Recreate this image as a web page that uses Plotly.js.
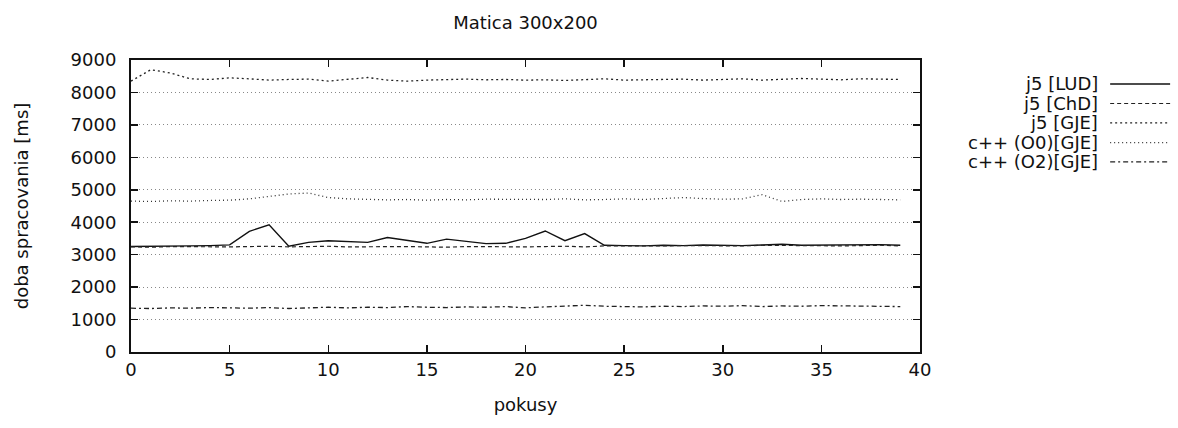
<!DOCTYPE html>
<html>
<head>
<meta charset="utf-8">
<script src="https://cdn.plot.ly/plotly-3.0.1.min.js"></script>
<style>html,body{margin:0;padding:0;background:#fff;}#chart{width:1178px;height:428px;}</style>
</head>
<body>
<div id="chart"></div>
<script>
// ---- data ----
const pokusy = Array.from({length: 40}, (_, i) => i);
const seriesNames = ["j5 [LUD]", "j5 [ChD]", "j5 [GJE]", "c++ (O0)[GJE]", "c++ (O2)[GJE]"];
const j5LUD = [3250,3250,3260,3270,3280,3300,3720,3920,3260,3380,3430,3400,3380,3530,3430,3350,3480,3400,3340,3350,3500,3730,3430,3650,3290,3280,3270,3290,3280,3300,3290,3280,3300,3320,3290,3300,3290,3300,3310,3290];
const j5ChD = [3240,3230,3250,3240,3250,3240,3250,3260,3240,3250,3260,3240,3250,3240,3250,3240,3230,3250,3240,3250,3240,3250,3260,3240,3270,3270,3260,3270,3280,3270,3280,3270,3290,3280,3270,3280,3270,3280,3290,3270];
const j5GJE = [8350,8700,8600,8420,8400,8450,8420,8380,8400,8410,8350,8400,8460,8380,8350,8380,8400,8410,8390,8400,8380,8390,8370,8400,8420,8380,8390,8400,8410,8380,8400,8420,8380,8400,8430,8410,8390,8420,8410,8400];
const cppO0GJE = [4650,4640,4660,4650,4670,4680,4720,4800,4870,4900,4760,4720,4700,4690,4700,4680,4700,4690,4710,4700,4690,4700,4720,4690,4700,4720,4700,4740,4760,4730,4710,4720,4850,4640,4700,4720,4700,4710,4700,4690];
const cppO2GJE = [1350,1340,1360,1350,1370,1360,1350,1370,1340,1360,1380,1360,1380,1370,1400,1380,1370,1390,1380,1400,1360,1390,1420,1440,1410,1400,1390,1410,1400,1420,1410,1430,1400,1420,1410,1430,1420,1400,1410,1400];
const xTicks = [0,5,10,15,20,25,30,35,40];
const yTicks = [0,1000,2000,3000,4000,5000,6000,7000,8000,9000];

// ---- styles ----
const allY = [j5LUD, j5ChD, j5GJE, cppO0GJE, cppO2GJE];
const styles = [
  {color:'#111', width:1.4, dash:'solid'},
  {color:'#222', width:1.2, dash:'4px,3px'},
  {color:'#222', width:1.3, dash:'2px,3px'},
  {color:'#333', width:1.3, dash:'1px,3px'},
  {color:'#222', width:1.3, dash:'5px,3px,2px,3px'}
];
const FONT = 'DejaVu Sans, Liberation Sans, sans-serif';
const FS = 18;

const traces = allY.map((y, k) => ({
  x: pokusy, y: y, type: 'scatter', mode: 'lines', name: seriesNames[k],
  line: styles[k], showlegend: false, hoverinfo: 'skip'
}));

// legend drawn gnuplot-style: text right-aligned, key line on right
const legRowsY = [0.918, 0.851, 0.785, 0.717, 0.651];
const annotations = seriesNames.map((n, k) => ({
  xref: 'paper', yref: 'paper', x: 1.228, y: legRowsY[k], xanchor: 'right', yanchor: 'middle',
  text: n, showarrow: false, font: {family: FONT, size: FS, color: '#111'}
}));
const shapes = seriesNames.map((n, k) => ({
  type: 'line', xref: 'paper', yref: 'paper', x0: 1.241, x1: 1.317, y0: legRowsY[k], y1: legRowsY[k],
  line: styles[k]
}));

const layout = {
  width: 1178, height: 428,
  margin: {l: 131, r: 258, t: 60, b: 76, pad: 0},
  paper_bgcolor: '#fff', plot_bgcolor: '#fff',
  font: {family: FONT, size: FS, color: '#111'},
  title: {text: 'Matica 300x200', x: 0.5, xref: 'paper', xanchor: 'center', y: 0.948, yanchor: 'middle', font: {family: FONT, size: FS, color: '#111'}},
  xaxis: {
    range: [0, 40], tickvals: xTicks, ticktext: xTicks.map(String),
    ticks: 'inside', ticklen: 7, tickwidth: 1.5, tickcolor: '#111',
    showline: true, linewidth: 2, linecolor: '#111', mirror: 'ticks',
    showgrid: false, zeroline: false, automargin: false,
    title: {text: 'pokusy', standoff: 20, font: {family: FONT, size: FS}},
    tickfont: {family: FONT, size: FS}
  },
  yaxis: {
    range: [0, 9000], tickvals: yTicks, ticktext: yTicks.map(String),
    ticks: 'inside', ticklen: 7, tickwidth: 1.5, tickcolor: '#111',
    ticklabelstandoff: 9,
    showline: true, linewidth: 2, linecolor: '#111', mirror: 'ticks',
    showgrid: true, gridcolor: '#888', griddash: '1px,3px', gridwidth: 1,
    zeroline: false, automargin: false,
    title: {text: 'doba spracovania [ms]', standoff: 37, font: {family: FONT, size: FS}},
    tickfont: {family: FONT, size: FS}
  },
  annotations: annotations,
  shapes: shapes
};

Plotly.newPlot('chart', traces, layout, {staticPlot: true, displayModeBar: false});
</script>
</body>
</html>
